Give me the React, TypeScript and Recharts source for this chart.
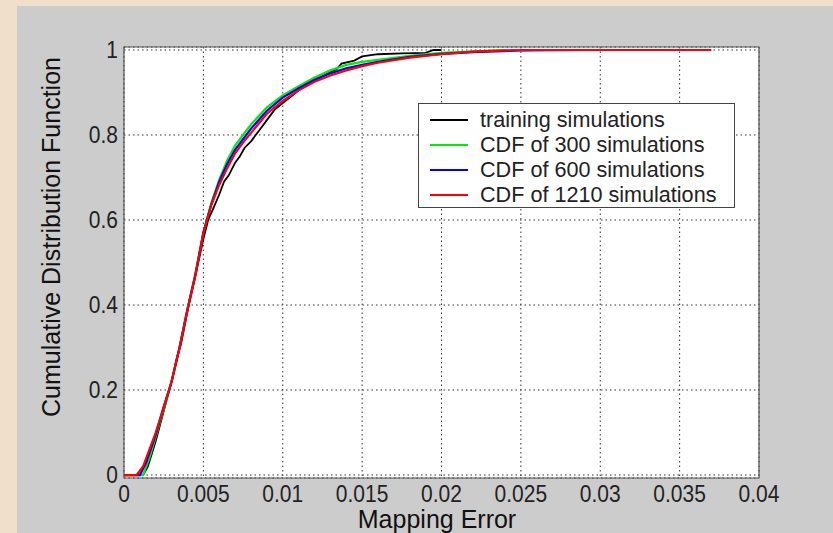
import { LineChart, Line, XAxis, YAxis, CartesianGrid, Legend, ReferenceArea, Label } from 'recharts';

// x ticks and y ticks as they appear on the figure
const xTicks = [0, 0.005, 0.01, 0.015, 0.02, 0.025, 0.03, 0.035, 0.04];
const xTickLabels = ['0', '0.005', '0.01', '0.015', '0.02', '0.025', '0.03', '0.035', '0.04'];
const yTicks = [0, 0.2, 0.4, 0.6, 0.8, 1];
const yTickLabels = ['0', '0.2', '0.4', '0.6', '0.8', '1'];

// training simulations (empirical, jagged)
const trainX = [0, 0.0012, 0.0015, 0.002, 0.0025, 0.003, 0.0033, 0.0036, 0.004, 0.0045, 0.005, 0.0053, 0.0056, 0.006, 0.0063, 0.0066, 0.007, 0.0073, 0.0076, 0.008, 0.0083, 0.0087, 0.009, 0.0095, 0.01, 0.0105, 0.011, 0.012, 0.013, 0.0134, 0.0137, 0.0145, 0.015, 0.016, 0.0175, 0.019, 0.0195, 0.02];
const trainY = [0, 0, 0.02, 0.08, 0.15, 0.22, 0.27, 0.31, 0.385, 0.47, 0.555, 0.6, 0.625, 0.66, 0.69, 0.705, 0.735, 0.75, 0.77, 0.785, 0.8, 0.82, 0.835, 0.86, 0.875, 0.89, 0.905, 0.928, 0.948, 0.955, 0.968, 0.975, 0.985, 0.99, 0.992, 0.993, 1, 1];

// CDF of 300 simulations
const cdf300X = [0, 0.0012, 0.0016, 0.002, 0.0025, 0.003, 0.0035, 0.004, 0.0045, 0.005, 0.0055, 0.006, 0.0065, 0.007, 0.0075, 0.008, 0.009, 0.01, 0.011, 0.012, 0.013, 0.014, 0.015, 0.016, 0.018, 0.02, 0.022, 0.024];
const cdf300Y = [0, 0, 0.04, 0.09, 0.155, 0.22, 0.3, 0.39, 0.475, 0.57, 0.64, 0.695, 0.74, 0.775, 0.8, 0.825, 0.865, 0.893, 0.915, 0.935, 0.952, 0.965, 0.972, 0.977, 0.986, 0.993, 0.997, 1];

// CDF of 600 simulations
const cdf600X = [0, 0.001, 0.0014, 0.002, 0.0025, 0.003, 0.0035, 0.004, 0.0045, 0.005, 0.0055, 0.006, 0.0065, 0.007, 0.0075, 0.008, 0.009, 0.01, 0.011, 0.012, 0.013, 0.014, 0.015, 0.016, 0.018, 0.02, 0.022, 0.025, 0.03];
const cdf600Y = [0, 0, 0.03, 0.095, 0.16, 0.22, 0.3, 0.39, 0.472, 0.57, 0.637, 0.69, 0.732, 0.765, 0.79, 0.815, 0.857, 0.888, 0.91, 0.93, 0.945, 0.957, 0.965, 0.972, 0.984, 0.991, 0.995, 0.999, 1];

// CDF of 1210 simulations
const cdf1210X = [0, 0.0008, 0.0012, 0.0016, 0.002, 0.0025, 0.003, 0.0035, 0.004, 0.0045, 0.005, 0.0055, 0.006, 0.0065, 0.007, 0.0075, 0.008, 0.009, 0.01, 0.011, 0.012, 0.013, 0.014, 0.015, 0.016, 0.018, 0.02, 0.022, 0.024, 0.026, 0.03, 0.037];
const cdf1210Y = [0, 0, 0.02, 0.06, 0.1, 0.16, 0.22, 0.3, 0.39, 0.47, 0.57, 0.635, 0.683, 0.722, 0.757, 0.782, 0.805, 0.85, 0.88, 0.905, 0.925, 0.94, 0.952, 0.962, 0.97, 0.982, 0.99, 0.996, 0.999, 1, 1, 1];

const toPoints = (xs: number[], ys: number[]) => xs.map((x, i) => ({ x, y: ys[i] }));

const SERIES = [
  { name: 'training simulations', color: '#000000', width: 1.8, data: toPoints(trainX, trainY) },
  { name: 'CDF of 300 simulations', color: '#00ee00', width: 2.2, data: toPoints(cdf300X, cdf300Y) },
  { name: 'CDF of 600 simulations', color: '#0000ff', width: 2.2, data: toPoints(cdf600X, cdf600Y) },
  { name: 'CDF of 1210 simulations', color: '#ff0000', width: 2.2, data: toPoints(cdf1210X, cdf1210Y) },
];

const FONT = '"Liberation Sans", Arial, sans-serif';

function XTick({ x, y, payload }: any) {
  const i = xTicks.indexOf(payload.value);
  return (
    <g transform={`translate(${x},${y}) scale(1,1.1)`}>
      <text x={0} y={0} dy="0.71em" textAnchor="middle" fontSize={21} fontFamily={FONT} fill="#222">
        {i >= 0 ? xTickLabels[i] : payload.value}
      </text>
    </g>
  );
}

function YTick({ x, y, payload }: any) {
  const i = yTicks.indexOf(payload.value);
  return (
    <g transform={`translate(${x},${y}) scale(1,1.1)`}>
      <text x={0} y={0} dy="0.36em" textAnchor="end" fontSize={21} fontFamily={FONT} fill="#222">
        {i >= 0 ? yTickLabels[i] : payload.value}
      </text>
    </g>
  );
}

function LegendBox() {
  return (
    <div
      style={{
        width: 317,
        height: 105,
        boxSizing: 'border-box',
        border: '1px solid #444',
        background: '#fff',
        paddingTop: 3,
        fontFamily: FONT,
        fontSize: 21.6,
        color: '#222',
      }}
    >
      {SERIES.map((s) => (
        <div key={s.name} style={{ height: 25, display: 'flex', alignItems: 'center' }}>
          <span style={{ display: 'inline-block', width: 38, height: 2, background: s.color, marginLeft: 11, marginRight: 12 }} />
          <span style={{ lineHeight: '25px' }}>{s.name}</span>
        </div>
      ))}
    </div>
  );
}

export default function App() {
  return (
    <div style={{ position: 'fixed', left: 0, top: 0, width: 833, height: 533, background: '#efdfcb', overflow: 'hidden' }}>
      <div style={{ position: 'absolute', left: 17, top: 6, right: 0, bottom: 0, background: '#cccccc' }} />
      <div style={{ position: 'absolute', left: 0, top: 0 }}>
        <LineChart width={833} height={533} margin={{ top: 47, right: 74, left: 64, bottom: 25 }}>
          <CartesianGrid stroke="#333" strokeDasharray="1.5 3" fill="#ffffff" />
          <XAxis
            type="number"
            dataKey="x"
            domain={[0, 0.04]}
            ticks={xTicks}
            tick={<XTick />}
            tickLine={false}
            axisLine={false}
            tickSize={6}
            tickMargin={2}
            height={30}
            allowDataOverflow
          >
            <Label
              content={() => (
                <text x={437} y={528} textAnchor="middle" fontSize={25} fontFamily={FONT} fill="#111">
                  Mapping Error
                </text>
              )}
            />
          </XAxis>
          <YAxis
            type="number"
            domain={[-0.007, 1.007]}
            ticks={yTicks}
            tick={<YTick />}
            tickLine={false}
            axisLine={false}
            tickSize={6}
            tickMargin={0}
            width={60}
            allowDataOverflow
          >
            <Label
              content={() => (
                <text transform="translate(60,237) rotate(-90)" textAnchor="middle" fontSize={25} fontFamily={FONT} fill="#111">
                  Cumulative Distribution Function
                </text>
              )}
            />
          </YAxis>
          {SERIES.map((s) => (
            <Line
              key={s.name}
              data={s.data}
              dataKey="y"
              name={s.name}
              type="linear"
              stroke={s.color}
              strokeWidth={s.width}
              dot={false}
              isAnimationActive={false}
            />
          ))}
          <ReferenceArea x1={0} x2={0.04} y1={-0.007} y2={1.007} fill="none" stroke="#555" strokeWidth={1.2} ifOverflow="visible" />
          <Legend
            layout="horizontal"
            verticalAlign="middle"
            align="center"
            content={<LegendBox />}
            wrapperStyle={{ position: 'absolute', left: 418, top: 103, width: 317, height: 105 }}
          />
        </LineChart>
      </div>
    </div>
  );
}
